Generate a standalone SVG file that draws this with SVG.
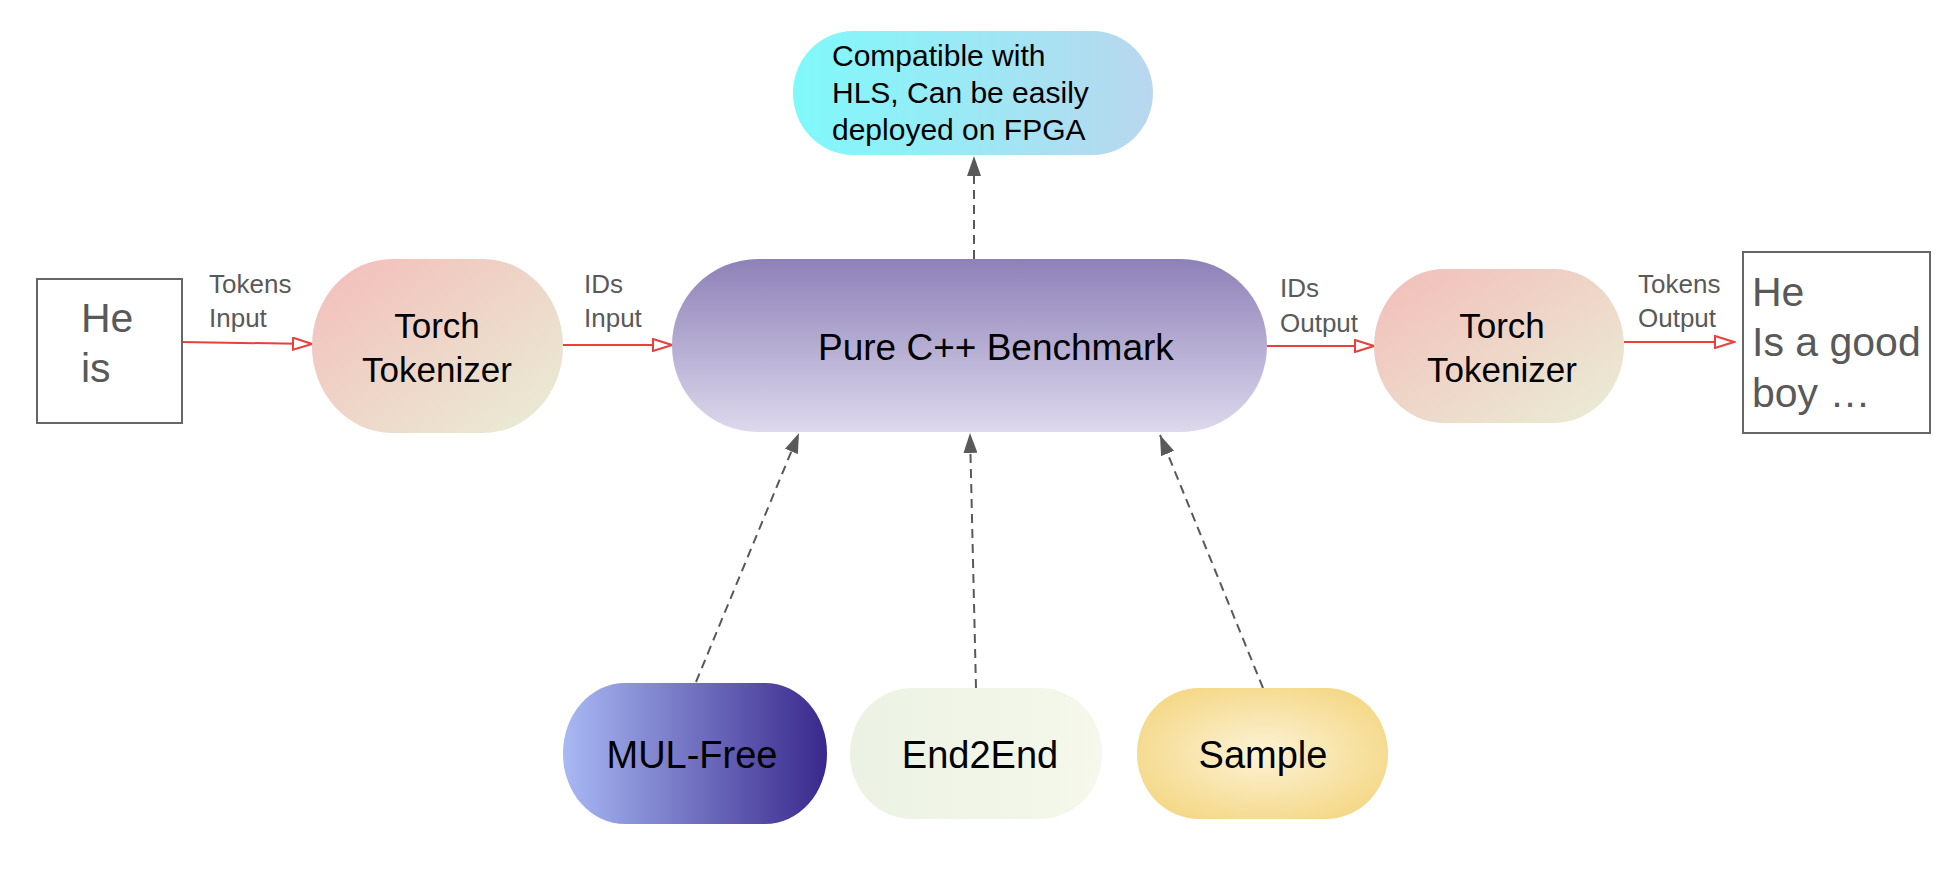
<svg xmlns="http://www.w3.org/2000/svg" width="1950" height="888" viewBox="0 0 1950 888">
<defs>
<style>
text{font-family:"Liberation Sans",Arial,sans-serif}
.lbl{font-size:26px;fill:#595959}
.big{font-size:41px;fill:#595959}
.node{font-size:35px;fill:#000}
.red{stroke:#e8403a;stroke-width:2;fill:none}
.dash{stroke:#595959;stroke-width:2;stroke-dasharray:9 6;fill:none}
.box{fill:#fff;stroke:#666;stroke-width:2}
</style>
<linearGradient id="gTok" x1="0" y1="0" x2="1" y2="1">
<stop offset="0" stop-color="#f3bdb9"/><stop offset="1" stop-color="#e9eed7"/>
</linearGradient>
<linearGradient id="gPure" x1="0" y1="0" x2="0" y2="1">
<stop offset="0" stop-color="#8e81b8"/><stop offset="1" stop-color="#ddd8ec"/>
</linearGradient>
<linearGradient id="gTop" x1="0" y1="0" x2="1" y2="0">
<stop offset="0" stop-color="#7ff9fb"/><stop offset="1" stop-color="#b9d7ee"/>
</linearGradient>
<linearGradient id="gMul" x1="0" y1="0" x2="1" y2="0">
<stop offset="0" stop-color="#a9b9f4"/><stop offset="1" stop-color="#39288c"/>
</linearGradient>
<linearGradient id="gE2E" x1="0" y1="0" x2="1" y2="0">
<stop offset="0" stop-color="#ebf2e4"/><stop offset="1" stop-color="#f5f8eb"/>
</linearGradient>
<radialGradient id="gSam" cx="0.5" cy="0.5" r="0.6">
<stop offset="0" stop-color="#fcf3d6"/><stop offset="1" stop-color="#f4d784"/>
</radialGradient>
<marker id="open" markerWidth="22" markerHeight="14" refX="20" refY="7" orient="auto" markerUnits="userSpaceOnUse">
<path d="M1,1 L20,7 L1,13 Z" fill="#fff" stroke="#e8403a" stroke-width="2"/>
</marker>
<marker id="solid" markerWidth="20" markerHeight="14" refX="20" refY="7" orient="auto" markerUnits="userSpaceOnUse">
<path d="M0,0 L20,7 L0,14 Z" fill="#595959"/>
</marker>
</defs>
<rect width="1950" height="888" fill="#fff"/>

<g id="connectors">
<path class="red" d="M181,342 L312,344" marker-end="url(#open)"/>
<path class="red" d="M562,345 L672,345" marker-end="url(#open)"/>
<path class="red" d="M1267,346 L1374,346" marker-end="url(#open)"/>
<path class="red" d="M1624,342 L1734,342" marker-end="url(#open)"/>
<path class="dash" d="M974,259 L974,156" marker-end="url(#solid)"/>
<path class="dash" d="M696,682 L799,433" marker-end="url(#solid)"/>
<path class="dash" d="M976,688 L970,433" marker-end="url(#solid)"/>
<path class="dash" d="M1263,688 L1160,435" marker-end="url(#solid)"/>
<text class="lbl" x="209" y="293">Tokens</text>
<text class="lbl" x="209" y="327">Input</text>
<text class="lbl" x="584" y="293">IDs</text>
<text class="lbl" x="584" y="327">Input</text>
<text class="lbl" x="1280" y="297">IDs</text>
<text class="lbl" x="1280" y="332">Output</text>
<text class="lbl" x="1638" y="293">Tokens</text>
<text class="lbl" x="1638" y="327">Output</text>
</g>

<g id="input-box">
<rect class="box" x="37" y="279" width="145" height="144"/>
<text class="big" x="81" y="332">He</text>
<text class="big" x="81" y="382">is</text>
</g>

<g id="tokenizer-in">
<rect x="312" y="259" width="251" height="174" rx="80" ry="87" fill="url(#gTok)"/>
<text class="node" x="437" y="338" text-anchor="middle">Torch</text>
<text class="node" x="437" y="382" text-anchor="middle">Tokenizer</text>
</g>

<g id="benchmark">
<rect x="672" y="259" width="595" height="173" rx="86" ry="86" fill="url(#gPure)"/>
<text class="node" x="818" y="360" style="font-size:37px">Pure C++ Benchmark</text>
</g>

<g id="hls">
<rect x="793" y="31" width="360" height="124" rx="60" ry="62" fill="url(#gTop)"/>
<text class="node" x="832" y="66" style="font-size:30px">Compatible with</text>
<text class="node" x="832" y="103" style="font-size:30px">HLS, Can be easily</text>
<text class="node" x="832" y="140" style="font-size:30px">deployed on FPGA</text>
</g>

<g id="tokenizer-out">
<rect x="1374" y="269" width="250" height="154" rx="70" ry="77" fill="url(#gTok)"/>
<text class="node" x="1502" y="338" text-anchor="middle">Torch</text>
<text class="node" x="1502" y="382" text-anchor="middle">Tokenizer</text>
</g>

<g id="output-box">
<rect class="box" x="1743" y="252" width="187" height="181"/>
<text class="big" x="1752" y="306">He</text>
<text class="big" x="1752" y="356">Is a good</text>
<text class="big" x="1752" y="407">boy …</text>
</g>

<g id="mul-free">
<rect x="563" y="683" width="264" height="141" rx="62" ry="70" fill="url(#gMul)"/>
<text class="node" x="692" y="768" text-anchor="middle" style="font-size:38px">MUL-Free</text>
</g>

<g id="end2end">
<rect x="850" y="688" width="252" height="131" rx="62" ry="65" fill="url(#gE2E)"/>
<text class="node" x="980" y="768" text-anchor="middle" style="font-size:38px">End2End</text>
</g>

<g id="sample">
<rect x="1137" y="688" width="251" height="131" rx="62" ry="65" fill="url(#gSam)"/>
<text class="node" x="1263" y="768" text-anchor="middle" style="font-size:38px">Sample</text>
</g>
</svg>
